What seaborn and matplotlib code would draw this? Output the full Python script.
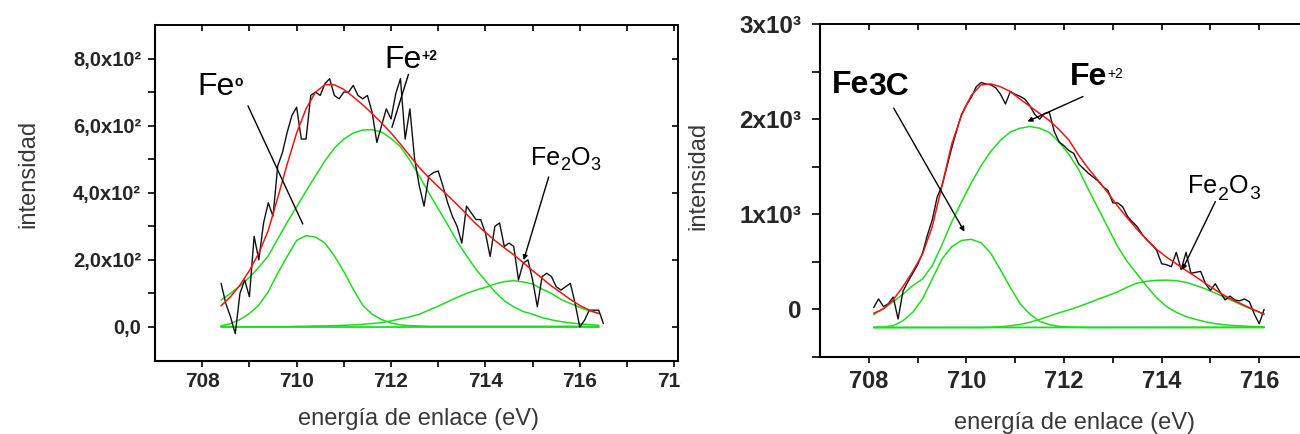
import matplotlib
matplotlib.use("Agg")
import matplotlib.pyplot as plt
import seaborn as sns
from matplotlib.patches import Rectangle
from matplotlib.ticker import FixedLocator

# ---------------- data ----------------
# Left panel (Fe0, Fe+2, Fe2O3)
E_data_L = [708.4, 708.5, 708.6, 708.7, 708.8, 708.9, 709.0, 709.1, 709.2, 709.3,
            709.4, 709.5, 709.6, 709.7, 709.8, 709.9, 710.0, 710.1, 710.2, 710.3,
            710.4, 710.5, 710.6, 710.7, 710.8, 710.9, 711.0, 711.1, 711.2, 711.3,
            711.4, 711.5, 711.6, 711.7, 711.8, 711.9, 712.0, 712.1, 712.2, 712.3,
            712.4, 712.5, 712.6, 712.7, 712.8, 712.9, 713.0, 713.1, 713.2, 713.3,
            713.4, 713.5, 713.6, 713.7, 713.8, 713.9, 714.0, 714.1, 714.2, 714.3,
            714.4, 714.5, 714.6, 714.7, 714.8, 714.9, 715.0, 715.1, 715.2, 715.3,
            715.4, 715.5, 715.6, 715.7, 715.8, 715.9, 716.0, 716.1, 716.2, 716.3,
            716.4, 716.5]
I_data_L = [130, 70, 30, -20, 100, 140, 90, 270, 200, 310,
            370, 330, 480, 520, 580, 630, 655, 560, 560, 690,
            700, 690, 725, 740, 690, 680, 700, 700, 720, 690,
            680, 690, 640, 550, 600, 650, 620, 695, 740, 560,
            650, 500, 420, 360, 450, 460, 465, 420, 370, 330,
            300, 250, 360, 340, 320, 320, 280, 210, 300, 310,
            240, 250, 240, 140, 190, 200, 140, 60, 150, 160,
            150, 120, 110, 120, 130, 70, 0, 20, 50, 50,
            50, 10]

E_fit_L = [708.4, 708.6, 708.8, 709.0, 709.2, 709.4, 709.6, 709.8, 710.0, 710.2,
           710.4, 710.6, 710.8, 711.0, 711.2, 711.4, 711.6, 711.8, 712.0, 712.2,
           712.4, 712.6, 712.8, 713.0, 713.2, 713.4, 713.6, 713.8, 714.0, 714.2,
           714.4, 714.6, 714.8, 715.0, 715.2, 715.4, 715.6, 715.8, 716.0, 716.2,
           716.4]
fit_L = [63, 90, 125, 168, 220, 288, 385, 485, 578, 650,
         700, 722, 722, 708, 686, 662, 636, 608, 578, 545,
         510, 475, 445, 418, 392, 365, 336, 307, 282, 258,
         236, 215, 192, 168, 145, 122, 102, 82, 64, 50,
         40]
fe0_L = [3, 10, 22, 40, 65, 105, 160, 210, 258, 272,
         268, 250, 212, 165, 112, 65, 38, 22, 12, 6,
         4, 3, 2, 2, 2, 2, 2, 2, 2, 2,
         2, 2, 2, 2, 2, 2, 2, 2, 2, 2,
         2]
fe2_L = [80, 100, 122, 148, 178, 212, 262, 312, 358, 405,
         450, 495, 533, 560, 578, 587, 588, 581, 562, 537,
         497, 450, 400, 352, 305, 255, 212, 172, 138, 105,
         78, 60, 46, 38, 28, 21, 16, 12, 9, 7,
         5]
fe2o3_L = [1, 1, 1, 1, 1, 1, 1, 1, 2, 2,
           3, 3, 4, 5, 6, 8, 10, 13, 18, 24,
           30, 38, 50, 62, 75, 88, 100, 110, 118, 128,
           135, 138, 134, 128, 113, 100, 82, 70, 58, 48,
           40]
E_base_L = [708.4, 716.4]
base_L = [1, 1]

# Right panel (Fe3C, Fe+2, Fe2O3)
E_data_R = [708.1, 708.2, 708.3, 708.4, 708.5, 708.6, 708.7, 708.8, 708.9, 709.0,
            709.1, 709.2, 709.3, 709.4, 709.5, 709.6, 709.7, 709.8, 709.9, 710.0,
            710.1, 710.2, 710.3, 710.4, 710.5, 710.6, 710.7, 710.8, 710.9, 711.0,
            711.1, 711.2, 711.3, 711.4, 711.5, 711.6, 711.7, 711.8, 711.9, 712.0,
            712.1, 712.2, 712.3, 712.4, 712.5, 712.6, 712.7, 712.8, 712.9, 713.0,
            713.1, 713.2, 713.3, 713.4, 713.5, 713.6, 713.7, 713.8, 713.9, 714.0,
            714.1, 714.2, 714.3, 714.4, 714.5, 714.6, 714.7, 714.8, 714.9, 715.0,
            715.1, 715.2, 715.3, 715.4, 715.5, 715.6, 715.7, 715.8, 715.9, 716.0,
            716.1]
I_data_R = [20, 110, 30, 60, 130, -100, 190, 290, 380, 470,
            590, 780, 940, 1180, 1300, 1500, 1700, 1880, 2050, 2150,
            2230, 2340, 2385, 2370, 2360, 2330, 2260, 2160, 2290, 2260,
            2240, 2210, 2140, 2050, 2000, 2060, 2070, 1870, 1760, 1720,
            1670, 1640, 1530, 1480, 1430, 1390, 1350, 1290, 1250, 1120,
            1120, 1080, 980, 920, 870, 790, 730, 680, 620, 480,
            470, 450, 600, 420, 600, 380, 390, 400, 270, 200,
            270, 180, 100, 140, 100, 90, 110, 80, -50, -150,
            0]

E_fit_R = [708.1, 708.3, 708.5, 708.7, 708.9, 709.1, 709.3, 709.5, 709.7, 709.9,
           710.1, 710.3, 710.5, 710.7, 710.9, 711.1, 711.3, 711.5, 711.7, 711.9,
           712.1, 712.3, 712.5, 712.7, 712.9, 713.1, 713.3, 713.5, 713.7, 713.9,
           714.1, 714.3, 714.5, 714.7, 714.9, 715.1, 715.3, 715.5, 715.7, 715.9,
           716.1]
fit_R = [-40, 5, 100, 240, 400, 580, 870, 1300, 1740, 2040,
         2250, 2360, 2370, 2340, 2290, 2210, 2135, 2060, 1985, 1890,
         1780, 1620, 1480, 1355, 1225, 1085, 960, 840, 730, 630,
         550, 480, 410, 343, 273, 205, 142, 90, 42, -5,
         -50]
fe3c_R = [-188, -185, -170, -120, -30, 110, 320, 530, 660, 725,
          737, 700, 590, 414, 230, 60, -50, -125, -160, -178,
          -185, -188, -190, -190, -190, -190, -190, -190, -190, -190,
          -190, -190, -190, -190, -190, -190, -190, -190, -190, -190,
          -190]
fe2_R = [-55, 10, 80, 160, 250, 320, 460, 680, 920, 1130,
         1330, 1510, 1660, 1780, 1865, 1905, 1922, 1905, 1860, 1760,
         1630, 1470, 1260, 1060, 860, 660, 500, 370, 240, 120,
         30, -30, -75, -105, -130, -150, -162, -170, -176, -180,
         -185]
fe2o3_R = [-190, -190, -190, -190, -190, -190, -190, -190, -190, -190,
           -190, -190, -188, -182, -172, -158, -135, -105, -70, -35,
           -5, 30, 68, 108, 145, 185, 235, 278, 296, 306,
           308, 302, 285, 252, 215, 172, 125, 80, 32, -10,
           -50]
E_base_R = [708.1, 716.1]
base_R = [-190, -188]

# tick labels
xt_L = [708, 710, 712, 714, 716, 718]
yt_L = [0, 200, 400, 600, 800]
ytl_L = ["0,0", "2,0x10²", "4,0x10²", "6,0x10²", "8,0x10²"]
xt_R = [708, 710, 712, 714, 716]
yt_R = [0, 1000, 2000, 3000]
ytl_R = ["0", "1x10³", "2x10³", "3x10³"]

# ---------------- style ----------------
sns.set_theme(style="white")
plt.rcParams["font.family"] = ["Liberation Sans", "DejaVu Sans"]
plt.rcParams["axes.edgecolor"] = "black"

GREEN = "#1fdc1f"
RED = "#f01414"
BLACK = "#101010"
LABC = "#383838"

W, H = 1300, 434
fig = plt.figure(figsize=(W / 100, H / 100), dpi=100)
fig.patch.set_facecolor("white")

axL = fig.add_axes([155 / W, 1 - 360.5 / H, 523 / W, 335.5 / H], zorder=0)
axR = fig.add_axes([820 / W, 1 - 357 / H, 497.8 / W, 333 / H], zorder=1)
fig.add_artist(Rectangle((681 / W, 0), 139 / W, 1, transform=fig.transFigure,
                         facecolor="white", edgecolor="none", zorder=0.5))


def line(ax, x, y, color, lw):
    sns.lineplot(x=x, y=y, ax=ax, color=color, linewidth=lw,
                 estimator=None, sort=False, legend=False)


# left lines
line(axL, E_base_L, base_L, GREEN, 1.3)
for comp in (fe0_L, fe2_L, fe2o3_L):
    line(axL, E_fit_L, comp, GREEN, 1.1)
line(axL, E_data_L, I_data_L, BLACK, 1.0)
line(axL, E_fit_L, fit_L, RED, 1.1)

# right lines
line(axR, E_base_R, base_R, GREEN, 1.3)
for comp in (fe3c_R, fe2_R, fe2o3_R):
    line(axR, E_fit_R, comp, GREEN, 1.1)
line(axR, E_data_R, I_data_R, BLACK, 1.0)
line(axR, E_fit_R, fit_R, RED, 1.1)


def style_axes(ax, xlim, ylim, xt, yt, ytl, xminor, yminor, xsize, ysize,
               ylen, ypad, xpad, topticks, right_major):
    ax.set_xlim(*xlim)
    ax.set_ylim(*ylim)
    ax.set_xlabel("")
    ax.set_ylabel("")
    ax.set_xticks(xt, [str(v) for v in xt], fontweight="bold", fontsize=xsize)
    ax.set_yticks(yt, ytl, fontweight="bold", fontsize=ysize)
    ax.xaxis.set_minor_locator(FixedLocator(xminor))
    ax.yaxis.set_minor_locator(FixedLocator(yminor))
    ax.tick_params(axis="x", which="both", direction="out", length=4, width=1.2,
                   color="black", pad=xpad, bottom=True, top=False)
    ax.tick_params(axis="y", which="both", direction="out", length=ylen, width=1.2,
                   color="black", pad=ypad, left=True, right=False)
    for s in ("left", "bottom"):
        ax.spines[s].set_linewidth(1.5)
        ax.spines[s].set_color("black")
    for s in ("top", "right"):
        ax.spines[s].set_linewidth(1.2)
        ax.spines[s].set_color("black")
    sx = ax.secondary_xaxis("top")
    sx.set_xticks(topticks, [""] * len(topticks))
    sx.tick_params(direction="in", length=4, width=1.2, color="black")
    sx.spines["top"].set_linewidth(1.2)
    if right_major is not None:
        sy = ax.secondary_yaxis("right")
        sy.set_yticks(right_major, [""] * len(right_major))
        sy.tick_params(direction="in", length=4, width=1.2, color="black")
        sy.spines["right"].set_linewidth(1.2)


style_axes(axL, (707.0, 718.08), (-100, 900), xt_L, yt_L, ytl_L,
           [709, 711, 713, 715, 717], [100, 300, 500, 700], 15, 14.5,
           5, 5, 4.5, list(range(708, 719)), yt_L)
style_axes(axR, (707.0, 717.2), (-500, 3000), xt_R, yt_R, ytl_R,
           [709, 711, 713, 715, 717], [-500, 500, 1500, 2500], 17, 17.5,
           5.5, 8, 5, list(range(708, 718)), None)


# ---------------- annotations ----------------
DESC = 0.212  # approximate font descent (em)


def chain(ax, x, y, parts):
    s, size, weight, shift, dx = parts[0]
    prev = ax.text(x, y, s, fontsize=size, fontweight=weight, ha="left",
                   va="baseline", color="black")
    prev_shift, prev_size = shift, size
    for s, size, weight, shift, dx in parts[1:]:
        dy = shift - prev_shift + DESC * prev_size
        prev = ax.annotate(s, xy=(1, 0), xycoords=prev, xytext=(dx, dy),
                           textcoords="offset points", fontsize=size,
                           fontweight=weight, ha="left", va="baseline",
                           color="black")
        prev_shift, prev_size = shift, size


def arrow(ax, start, end, head=True):
    ax.annotate("", xy=end, xytext=start,
                arrowprops=dict(arrowstyle="-|>" if head else "-", color="black",
                                lw=1.0, shrinkA=0, shrinkB=0, mutation_scale=7))


# left panel labels
chain(axL, 707.89, 690, [("Fe", 23, "normal", 0, 0), ("o", 10, "bold", 7.2, 0.5)])
chain(axL, 711.85, 771, [("Fe", 23, "normal", 0, 0), ("+2", 10, "bold", 5.8, 0.5)])
chain(axL, 714.96, 482, [("Fe", 18, "normal", 0, 0), ("2", 13, "normal", -3.6, 0.3),
                         ("O", 18, "normal", 0, 0.3), ("3", 13, "normal", -3.6, 0.3)])
arrow(axL, (708.97, 659), (710.13, 307), head=False)
arrow(axL, (712.37, 753), (712.02, 595), head=False)
arrow(axL, (715.34, 447), (714.81, 199), head=True)

# right panel labels
chain(axR, 707.25, 2274, [("Fe", 23, "bold", 0, 0), ("3C", 23, "bold", -1.0, -1.0)])
chain(axR, 712.13, 2361, [("Fe", 23, "bold", 0, 0), ("+2", 10, "normal", 5.0, -0.5)])
chain(axR, 714.55, 1224, [("Fe", 18, "normal", 0, 0), ("2", 14, "normal", -5.0, 0.3),
                          ("O", 18, "normal", 0, 0.3), ("3", 14, "normal", -5.0, 0.3)])
arrow(axR, (708.51, 2116), (709.96, 817))
arrow(axR, (712.39, 2238), (711.25, 1975))
arrow(axR, (715.10, 1133), (714.42, 414))

# axis titles
fig.text(28 / W, 1 - 174 / H, "intensidad", rotation=90, ha="center", va="center",
         fontsize=17, color=LABC)
fig.text(698 / W, 1 - 176 / H, "intensidad", rotation=90, ha="center", va="center",
         fontsize=17, color=LABC)
fig.text(419 / W, 1 - 419 / H, "energía de enlace (eV)", ha="center", va="center",
         fontsize=17, color=LABC)
fig.text(1075 / W, 1 - 423 / H, "energía de enlace (eV)", ha="center", va="center",
         fontsize=17, color=LABC)

fig.savefig("out.png", dpi=100, facecolor="white")
